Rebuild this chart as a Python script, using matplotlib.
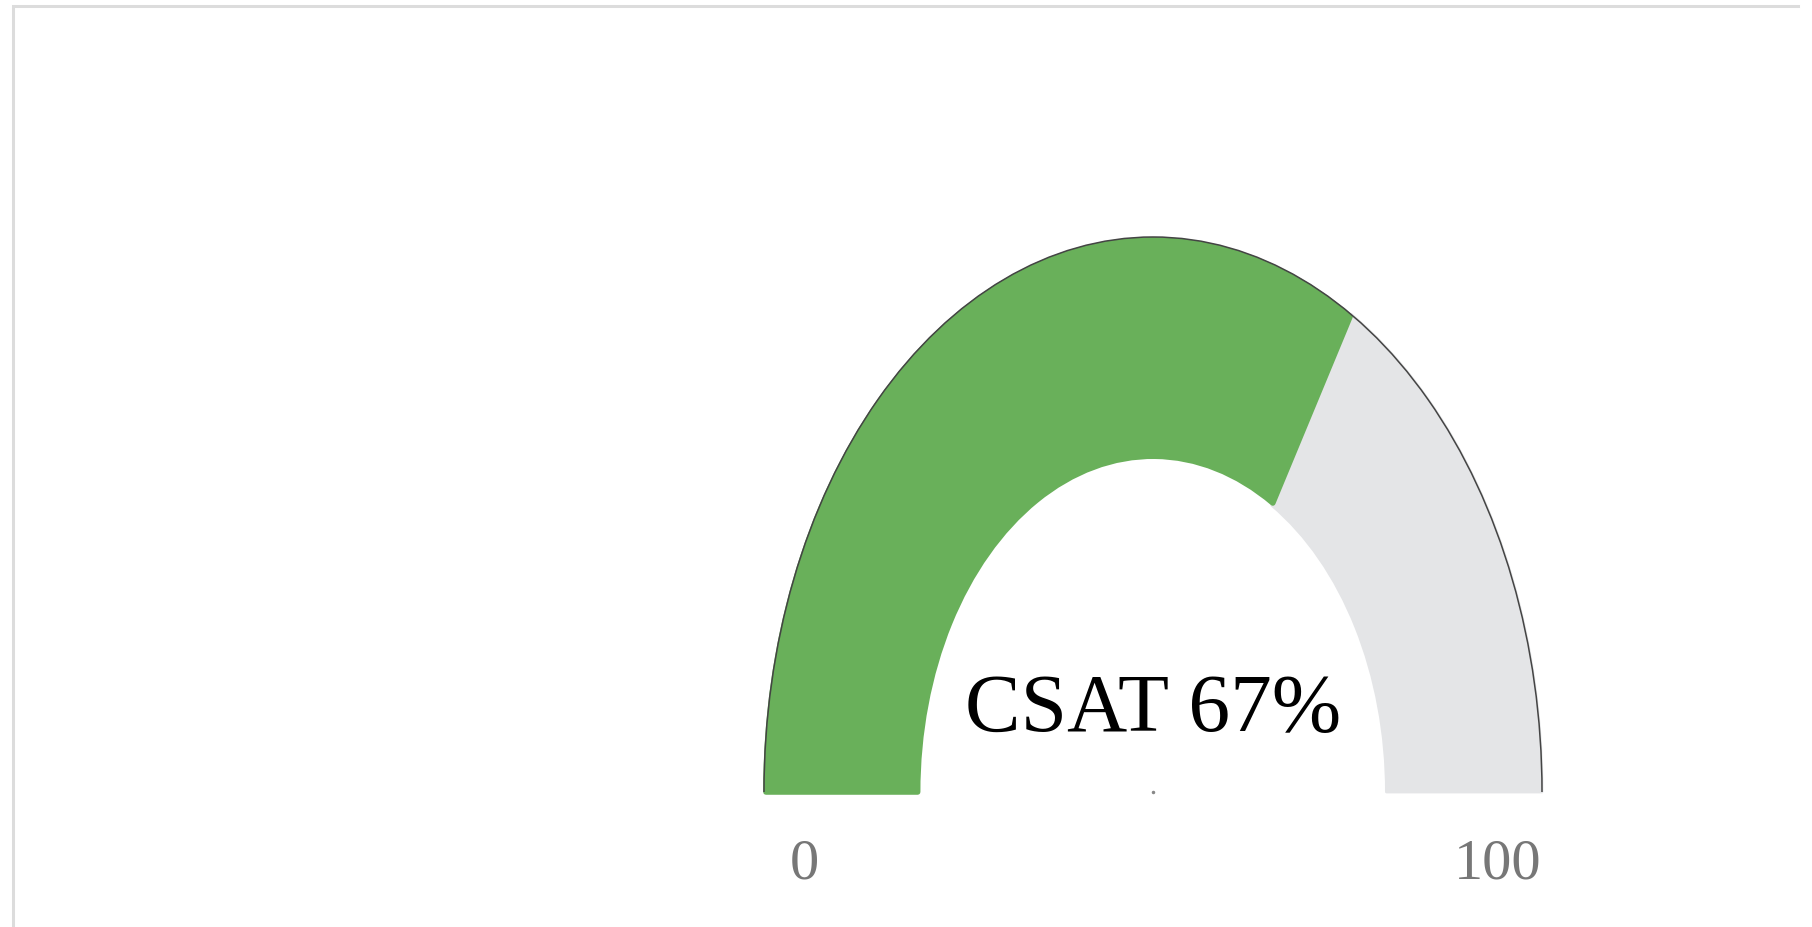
import matplotlib.pyplot as plt
from matplotlib.patches import Wedge, Arc

# gauge data
gauge_label = "CSAT"
gauge_value = 67
gauge_min = 0
gauge_max = 100
tick_labels = ["0", "100"]

green = "#69b05a"
track = "#e4e5e7"

fig = plt.figure(figsize=(18.12, 9.27), dpi=100)

# frame around the card (light grey, left and top edges only are visible)
bg = fig.add_axes([0, 0, 1, 1])
bg.set_xlim(0, 1812)
bg.set_ylim(927, 0)
bg.axis("off")
bg.plot([12.5, 12.5, 1798], [927, 5.5, 5.5], color="#dcdcdc", lw=2.2,
        solid_joinstyle="miter")

# gauge axes: unit half-circle, stretched vertically by the axes box
m = 0.05
rx, ry = 389, 555
cx, cy = 1153, 792
left = (cx - rx * (1 + m)) / 1812
bottom = (927 - cy - ry * m) / 927
ax = fig.add_axes([left, bottom, 2 * rx * (1 + m) / 1812, ry * (1 + 2 * m) / 927])
ax.set_xlim(-1 - m, 1 + m)
ax.set_ylim(-m, 1 + m)
ax.axis("off")

frac = (gauge_value - gauge_min) / (gauge_max - gauge_min)
split = 180 - 180 * frac

ax.add_patch(Wedge((0, 0), 1, 0, split, width=0.4, facecolor=track,
                   edgecolor=track, lw=2, joinstyle="round"))
ax.add_patch(Wedge((0, 0), 0.995, split, 180, width=0.39, facecolor=green,
                   edgecolor=green, lw=4, joinstyle="round"))
ax.add_patch(Arc((0, 0), 2, 2, theta1=0, theta2=180, color="#444444", lw=1.1))
ax.plot([0], [0], marker="o", ms=1.5, color="#888888")

ax.text(0, 0.145, f"{gauge_label} {gauge_value}%", ha="center", va="center",
        fontsize=60, family="Liberation Serif", color="black")
ax.text(-0.895, -0.13, tick_labels[0], ha="center", va="center", fontsize=42,
        family="Liberation Serif", color="#777777")
ax.text(0.887, -0.13, tick_labels[1], ha="center", va="center", fontsize=42,
        family="Liberation Serif", color="#777777")

fig.savefig("out.png", dpi=100)
